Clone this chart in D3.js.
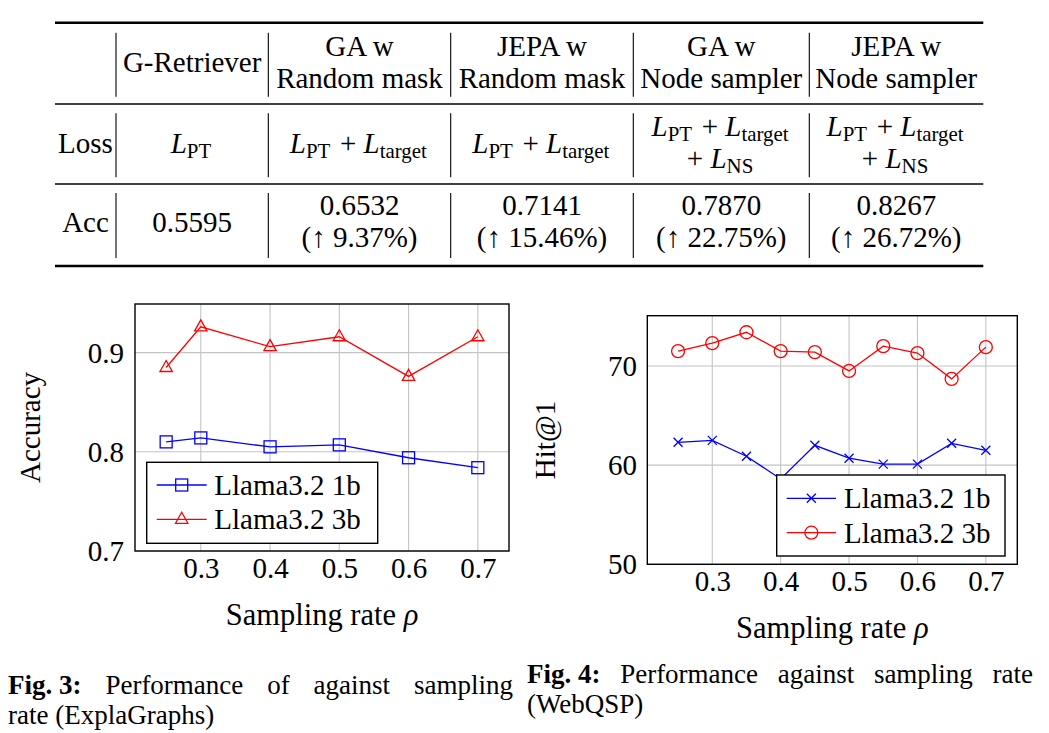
<!DOCTYPE html>
<html><head><meta charset="utf-8">
<script src="https://cdn.jsdelivr.net/npm/d3@7"></script>
<style>body{margin:0;background:#fff}svg{display:block}</style>
</head><body><svg id="c" width="1049" height="733"></svg>
<script>
// ---------- data ----------
const tableHeaders = [[""], ["G-Retriever"], ["GA w", "Random mask"], ["JEPA w", "Random mask"], ["GA w", "Node sampler"], ["JEPA w", "Node sampler"]];
const rowLabels = ["Loss", "Acc"];
const lossTerms = [["PT"], ["PT", "target"], ["PT", "target"], ["PT", "target", "NS"], ["PT", "target", "NS"]];
const accValues = [0.5595, 0.6532, 0.7141, 0.7870, 0.8267];
const accGains = [null, 9.37, 15.46, 22.75, 26.72];

const rates3 = [0.25, 0.3, 0.4, 0.5, 0.6, 0.7];
const acc1b = [0.810, 0.814, 0.805, 0.807, 0.794, 0.784];
const acc3b = [0.885, 0.926, 0.906, 0.916, 0.876, 0.916];
const xTicks = [0.3, 0.4, 0.5, 0.6, 0.7];
const yTicks3 = [0.7, 0.8, 0.9];

const rates4 = [0.25, 0.3, 0.35, 0.4, 0.45, 0.5, 0.55, 0.6, 0.65, 0.7];
const hit1b = [62.3, 62.5, 60.9, 58.6, 62.0, 60.7, 60.1, 60.1, 62.2, 61.5];
const hit3b = [71.5, 72.3, 73.4, 71.5, 71.4, 69.5, 72.0, 71.3, 68.7, 71.9];
const yTicks4 = [50, 60, 70];

const seriesNames = ["Llama3.2 1b", "Llama3.2 3b"];
const captions = [
  {label: "Fig. 3:", lines: ["Performance of against sampling", "rate (ExplaGraphs)"]},
  {label: "Fig. 4:", lines: ["Performance against sampling rate", "(WebQSP)"]}
];

// ---------- setup ----------
const FONT = "'Liberation Serif','Times New Roman',serif";
const svg = d3.select("#c");
svg.append("rect").attr("width", 1049).attr("height", 733).attr("fill", "#fff");

// ---------- table ----------
const colEdges = [55, 116, 268.3, 450.7, 633.3, 809.3, 983.3];
const colCenter = i => (colEdges[i] + colEdges[i + 1]) / 2;
const TFS = 29;
const tbl = svg.append("g").attr("font-family", FONT).attr("font-size", TFS).attr("fill", "#000");

[[22.7, 2.4], [104, 1.4], [184, 1.4], [266, 2.4]].forEach(([y, w]) =>
  tbl.append("line").attr("x1", colEdges[0]).attr("x2", colEdges[6]).attr("y1", y).attr("y2", y)
     .attr("stroke", "#000").attr("stroke-width", w));
const rowSpans = [[32.7, 96.7], [113.3, 177.3], [193, 258]];
rowSpans.forEach(([a, b]) => {
  for (let i = 1; i <= 5; i++) {
    tbl.append("line").attr("x1", colEdges[i]).attr("x2", colEdges[i]).attr("y1", a).attr("y2", b)
       .attr("stroke", "#000").attr("stroke-width", 1.1);
  }
});

function ctext(x, y) {
  return tbl.append("text").attr("x", x).attr("y", y).attr("text-anchor", "middle");
}
// header
tableHeaders.forEach((h, i) => {
  if (h.length === 1) ctext(colCenter(i), 72).text(h[0]);
  else { ctext(colCenter(i), 56).text(h[0]); ctext(colCenter(i), 88).text(h[1]); }
});
// row labels
ctext(colCenter(0), 153).text(rowLabels[0]);
ctext(colCenter(0), 232).text(rowLabels[1]);

function addL(t, sub, prefix) {
  if (prefix) t.append("tspan").text(prefix);
  t.append("tspan").attr("font-style", "italic").text("L");
  t.append("tspan").attr("font-size", TFS * 0.72).attr("dy", 5).text(sub);
  t.append("tspan").attr("dy", -5).text("\u200A");
}
lossTerms.forEach((terms, k) => {
  const i = k + 1;
  const first = terms.slice(0, 2);
  const y1 = terms.length > 2 ? 136 : 153;
  const t = ctext(colCenter(i), y1);
  first.forEach((s, j) => addL(t, s, j > 0 ? " + " : null));
  if (terms.length > 2) {
    const t2 = ctext(colCenter(i), 168);
    addL(t2, terms[2], "+ ");
  }
});
accValues.forEach((v, k) => {
  const i = k + 1;
  if (accGains[k] == null) ctext(colCenter(i), 232).text(v.toFixed(4));
  else {
    ctext(colCenter(i), 215).text(v.toFixed(4));
    ctext(colCenter(i), 247).text("(\u2191 " + accGains[k].toFixed(2) + "%)");
  }
});

// ---------- charts ----------
const FS = 29;
function chart(o) {
  const g = svg.append("g").attr("font-family", FONT).attr("font-size", FS);
  const x = d3.scaleLinear().domain(o.xd).range([o.L, o.R]);
  const y = d3.scaleLinear().domain(o.yd).range([o.B, o.T]);
  // grid
  xTicks.forEach(v => g.append("line").attr("x1", x(v)).attr("x2", x(v)).attr("y1", o.T).attr("y2", o.B)
      .attr("stroke", "#c4c4c4").attr("stroke-width", 1.1));
  o.yTicks.forEach(v => g.append("line").attr("x1", o.L).attr("x2", o.R).attr("y1", y(v)).attr("y2", y(v))
      .attr("stroke", "#c4c4c4").attr("stroke-width", 1.1));
  // tick labels via d3 axes
  const ax = g.append("g").attr("transform", `translate(0,${o.B})`)
     .call(d3.axisBottom(x).tickValues(xTicks).tickSize(0).tickPadding(0).tickFormat(d3.format(".1f")));
  ax.select(".domain").remove();
  ax.selectAll("text").attr("font-family", FONT).attr("font-size", FS).attr("fill", "#000")
     .attr("dy", null).attr("y", o.xLabY - o.B);
  const ay = g.append("g").attr("transform", `translate(${o.yLabX},0)`)
     .call(d3.axisLeft(y).tickValues(o.yTicks).tickSize(0).tickPadding(0).tickFormat(o.yFmt));
  ay.select(".domain").remove();
  ay.selectAll("text").attr("font-family", FONT).attr("font-size", FS).attr("fill", "#000").attr("dy", "0.33em");
  // series
  const line = d3.line().x((d, i) => x(o.xs[i])).y(d => y(d));
  o.series.forEach(s => {
    g.append("path").attr("d", line(s.values)).attr("fill", "none").attr("stroke", s.color).attr("stroke-width", 1.3);
    s.values.forEach((v, i) => drawMark(g, s.mark, x(o.xs[i]), y(v), s.color));
  });
  // box
  g.append("rect").attr("x", o.L).attr("y", o.T).attr("width", o.R - o.L).attr("height", o.B - o.T)
    .attr("fill", "none").attr("stroke", "#000").attr("stroke-width", 1.4);
  // legend
  const lg = o.legend;
  g.append("rect").attr("x", lg.x0).attr("y", lg.y0).attr("width", lg.x1 - lg.x0).attr("height", lg.y1 - lg.y0)
    .attr("fill", "#fff").attr("stroke", "#000").attr("stroke-width", 1.4);
  o.series.forEach((s, k) => {
    const yy = lg.rows[k];
    g.append("line").attr("x1", lg.lx0).attr("x2", lg.lx1).attr("y1", yy).attr("y2", yy)
      .attr("stroke", s.color).attr("stroke-width", 1.3);
    drawMark(g, s.mark, (lg.lx0 + lg.lx1) / 2, yy, s.color);
    g.append("text").attr("x", lg.tx).attr("y", yy).attr("dy", "0.35em").attr("fill", "#000").text(s.name);
  });
  // axis titles
  g.append("text").attr("x", (o.L + o.R) / 2).attr("y", o.xTitleY).attr("text-anchor", "middle").attr("fill", "#000")
    .attr("font-size", 30.5)
    .call(t => { t.append("tspan").text("Sampling rate "); t.append("tspan").attr("font-style", "italic").text("\u03C1"); });
  g.append("text").attr("transform", `translate(${o.yTitleX},${(o.T + o.B) / 2}) rotate(-90)`)
    .attr("text-anchor", "middle").attr("fill", "#000").text(o.yTitle);
}
function drawMark(g, type, cx, cy, color) {
  const st = m => m.attr("fill", "none").attr("stroke", color).attr("stroke-width", 1.3);
  if (type === "square") st(g.append("rect").attr("x", cx - 6).attr("y", cy - 6).attr("width", 12).attr("height", 12));
  else if (type === "triangle") st(g.append("path").attr("d", `M${cx},${cy - 7}L${cx + 6.2},${cy + 4}L${cx - 6.2},${cy + 4}Z`));
  else if (type === "circle") st(g.append("circle").attr("cx", cx).attr("cy", cy).attr("r", 6.5));
  else if (type === "cross") st(g.append("path").attr("d", `M${cx - 4.5},${cy - 4.5}L${cx + 4.5},${cy + 4.5}M${cx - 4.5},${cy + 4.5}L${cx + 4.5},${cy - 4.5}`));
}

chart({
  L: 135, R: 509, T: 304, B: 551, xd: [0.205, 0.745], yd: [0.7, 0.949],
  xs: rates3, yTicks: yTicks3, yFmt: d3.format(".1f"),
  xLabY: 578, yLabX: 124, xTitleY: 625, yTitleX: 40, yTitle: "Accuracy",
  series: [{name: seriesNames[0], values: acc1b, color: "#0000ff", mark: "square"},
           {name: seriesNames[1], values: acc3b, color: "#ff0000", mark: "triangle"}],
  legend: {x0: 146.7, y0: 462.3, x1: 377.7, y1: 543.3, lx0: 156.7, lx1: 206.7, tx: 214.3, rows: [485, 519.3]}
});
chart({
  L: 647.3, R: 1017.3, T: 315.7, B: 564.3, xd: [0.205, 0.746], yd: [50, 75.07],
  xs: rates4, yTicks: yTicks4, yFmt: d3.format("d"),
  xLabY: 591.5, yLabX: 637, xTitleY: 638, yTitleX: 555, yTitle: "Hit@1",
  series: [{name: seriesNames[0], values: hit1b, color: "#0000ff", mark: "cross"},
           {name: seriesNames[1], values: hit3b, color: "#ff0000", mark: "circle"}],
  legend: {x0: 776.7, y0: 475, x1: 1005, y1: 556, lx0: 786.7, lx1: 836, tx: 844, rows: [498.3, 532.7]}
});

// ---------- captions ----------
const CFS = 27;
const cap = svg.append("g").attr("font-family", FONT).attr("font-size", CFS).attr("fill", "#000");
function justifyLine(x0, x1, y, tokens) {
  const els = tokens.map(tk => cap.append("text").attr("y", y).attr("font-weight", tk.bold ? "bold" : null).text(tk.t));
  const widths = els.map(e => e.node().getComputedTextLength());
  const total = d3.sum(widths);
  const gap = tokens.length > 1 ? (x1 - x0 - total) / (tokens.length - 1) : 0;
  let x = x0;
  els.forEach((e, i) => { e.attr("x", x); x += widths[i] + gap; });
}
const capPos = [{x0: 8, x1: 513, y1: 694, y2: 724}, {x0: 527, x1: 1033, y1: 683, y2: 713}];
captions.forEach((c, i) => {
  const p = capPos[i];
  const toks = [{t: c.label, bold: true}].concat(c.lines[0].split(" ").map(w => ({t: w})));
  justifyLine(p.x0, p.x1, p.y1, toks);
  cap.append("text").attr("x", p.x0).attr("y", p.y2).text(c.lines[1]);
});
</script></body></html>
